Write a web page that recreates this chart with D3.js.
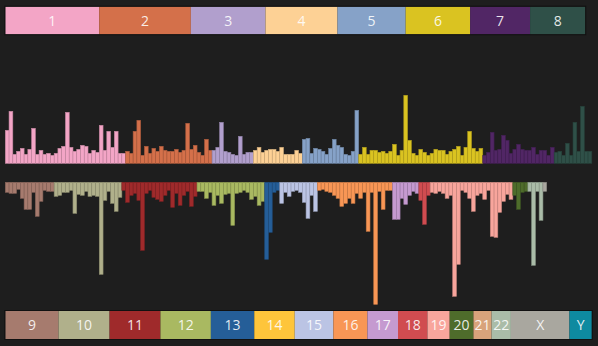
<!DOCTYPE html>
<html><head><meta charset="utf-8">
<script src="https://cdn.jsdelivr.net/npm/d3@7"></script>
<style>html,body{margin:0;padding:0;background:#1e1e1e;}svg{display:block;}</style>
</head><body>
<svg id="chart" width="598" height="346"></svg>
<script>
const topChroms = ["1","2","3","4","5","6","7","8"];
const bottomChroms = ["9","10","11","12","13","14","15","16","17","18","19","20","21","22","X","Y"];
const chromLengths = [249.25,243.2,198.02,191.15,180.92,171.12,159.14,146.36,141.21,135.53,135.01,133.85,115.17,107.35,102.53,90.35,81.2,78.08,59.13,63.03,48.13,51.3,155.27,59.37];
const chromColors = ["#f3a5c6","#d4704a","#b19fcd","#fdd195","#86a2c8","#dac321","#512665","#2f5048","#a67b6e","#b0b08b","#9f2a2b","#a9b961","#255e98","#fec53b","#bbc4e4","#f89655","#c59ad0","#d04c50","#f8a59c","#4e6c2b","#d8a37b","#aabca8","#a9a79f","#0e8aa0"];

const chr1Values = [33,52,9,12,15,9,14,35,9,13,9,10,8,10,15,17,51,16,12,14,18,17,10,13,11,38,13,32,16,32,10,10];
const chr2Values = [12,10,32,43,8,17,10,15,12,17,13,12,12,14,11,13,40,14,18,11,8,24,13];
const chr3Values = [13,16,41,12,11,9,8,27,9,11,11];
const chr4Values = [13,16,11,13,14,14,12,16,9,9,9,13,10];
const chr5Values = [24,25,10,15,14,12,9,15,24,18,16,9,8,12,53];
const chr6Values = [9,16,9,13,13,11,12,10,12,19,8,13,68,23,10,8,14,11,8,10,14,13,13,9,12,14,17,8,16,32,15,12,15];
const chr7Values = [8,11,31,13,14,28,23,10,14,19,14,13,13,16,9,13,13,8,16];
const chr8Values = [11,12,8,20,8,41,12,57,12,12];
const chr9Values = [10,11,11,7,16,27,27,10,34,19,8,9,9];
const chr10Values = [14,13,10,10,8,31,12,13,9,14,13,14,92,18,9,21,29,15];
const chr11Values = [8,20,13,11,18,68,11,8,15,17,19,13,8,25,11,23,13,9,24,14];
const chr12Values = [9,9,16,10,23,13,21,12,11,43,11,10,8,10,17,14,23,19];
const chr13Values = [77,50,10,8];
const chr14Values = [];
const chr15Values = [21,10,14,9,8,10,20,36,13,29];
const chr16Values = [8,7,9,10,13,16,24,21,16,21,11,16,10,49,10,122,9,27,8,8];
const chr17Values = [37,37,16,22,13,9,11];
const chr18Values = [18,42,13];
const chr19Values = [10,11,9,11,16,13,114,82,8,10,16,29,13,11,17,8,54,55,30,19,12,17];
const chr20Values = [13,27,10,9];
const chr21Values = [];
const chr22Values = [9,83,9,38];
const chrXValues = [9];
const chrYValues = [];

const allValues = [chr1Values,chr2Values,chr3Values,chr4Values,chr5Values,chr6Values,chr7Values,chr8Values,
  chr9Values,chr10Values,chr11Values,chr12Values,chr13Values,chr14Values,chr15Values,chr16Values,chr17Values,
  chr18Values,chr19Values,chr20Values,chr21Values,chr22Values,chrXValues,chrYValues];
const allChroms = topChroms.concat(bottomChroms);

const W = 598, H = 346;
const x0 = 5.3, x1 = 591.8;
const svg = d3.select("#chart");
svg.append("rect").attr("width", W).attr("height", H).attr("fill", "#1e1e1e");

function buildRow(chroms) {
  let off = 0, idx = 0;
  return chroms.map(c => {
    const i = allChroms.indexOf(c);
    const r = {name: c, start: off, len: chromLengths[i], color: chromColors[i], values: allValues[i], binStart: idx};
    off += chromLengths[i]; idx += allValues[i].length;
    return r;
  });
}
const topRow = buildRow(topChroms);
const botRow = buildRow(bottomChroms);

const totalLen = Math.max(d3.sum(topRow, d => d.len), d3.sum(botRow, d => d.len));
const totalBins = Math.max(d3.sum(topRow, d => d.values.length), d3.sum(botRow, d => d.values.length));
const xLen = d3.scaleLinear().domain([0, totalLen]).range([x0, x1]);
const xBin = d3.scaleLinear().domain([0, totalBins]).range([x0, x1]);
const hScale = d3.scaleLinear().domain([0, 130]).range([0, 130]);

const topBase = 163.3, botBase = 182.3;

function drawLabels(row, y, h) {
  const g = svg.append("g");
  g.selectAll("rect").data(row).join("rect")
    .attr("x", d => xLen(d.start)).attr("y", y)
    .attr("width", d => xLen(d.start + d.len) - xLen(d.start)).attr("height", h)
    .attr("fill", d => d.color);
  g.selectAll("text").data(row).join("text")
    .attr("x", d => (xLen(d.start) + xLen(d.start + d.len)) / 2)
    .attr("y", y + h / 2 + 5)
    .attr("text-anchor", "middle")
    .attr("font-family", "'Open Sans', 'Noto Sans', sans-serif")
    .attr("font-size", 14)
    .attr("fill", "#ffffff").attr("fill-opacity", 0.88)
    .text(d => d.name);
  const end = xLen(d3.sum(row, d => d.len));
  g.append("rect").attr("x", x0 - 0.5).attr("y", y - 0.5).attr("width", end - x0 + 1).attr("height", h + 1)
    .attr("fill", "none").attr("stroke", "#111").attr("stroke-width", 1);
}
drawLabels(topRow, 6.7, 27.6);
drawLabels(botRow, 311, 28);

function drawBars(row, up) {
  const bars = [];
  row.forEach(r => r.values.forEach((v, j) => bars.push({v, i: r.binStart + j, color: r.color})));
  svg.append("g").selectAll("rect").data(bars).join("rect")
    .attr("x", d => xBin(d.i))
    .attr("width", d => xBin(d.i + 1) - xBin(d.i))
    .attr("y", d => up ? topBase - hScale(d.v) : botBase)
    .attr("height", d => hScale(d.v))
    .attr("fill", d => d.color)
    .attr("stroke", d => d3.color(d.color).darker(0.6))
    .attr("stroke-width", 0.6);
}
drawBars(topRow, true);
drawBars(botRow, false);
</script>
</body></html>
